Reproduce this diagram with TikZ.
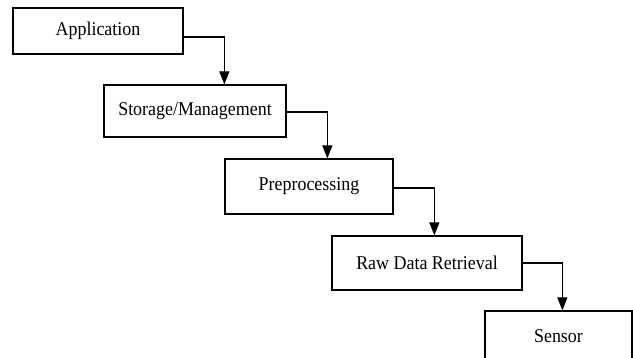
\documentclass[tikz,border=0pt]{standalone}
\usepackage{fontspec}
\setmainfont{Liberation Serif}[FakeStretch=0.92]
\usetikzlibrary{arrows.meta}
\begin{document}
\begin{tikzpicture}[x=1pt,y=1pt,
  stage/.style={draw, line width=1.3pt, inner sep=0pt, font=\fontsize{19.5}{22}\selectfont},
  flow/.style={line width=1.3pt, -{Triangle[width=10pt,length=13pt]}}]
\useasboundingbox (0,0) rectangle (633,358);
\node[stage, minimum width=170, minimum height=46] (app) at (98,327) {Application};
\node[stage, minimum width=182, minimum height=52] (sto) at (195,247) {Storage/Management};
\node[stage, minimum width=168, minimum height=55] (pre) at (309,171.5) {Preprocessing};
\node[stage, minimum width=190, minimum height=54] (raw) at (427,95) {Raw Data Retrieval};
\node[stage, minimum width=147, minimum height=51] (sen) at (558.5,21.5) {Sensor};
\draw[flow] ([yshift=-6]app.east) -| ([xshift=121]sto.north west);
\draw[flow] ([yshift=-1]sto.east) -| ([xshift=103]pre.north west);
\draw[flow] ([yshift=-1.5]pre.east) -| ([xshift=103]raw.north west);
\draw[flow] (raw.east) -| ([xshift=78]sen.north west);
\end{tikzpicture}
\end{document}
